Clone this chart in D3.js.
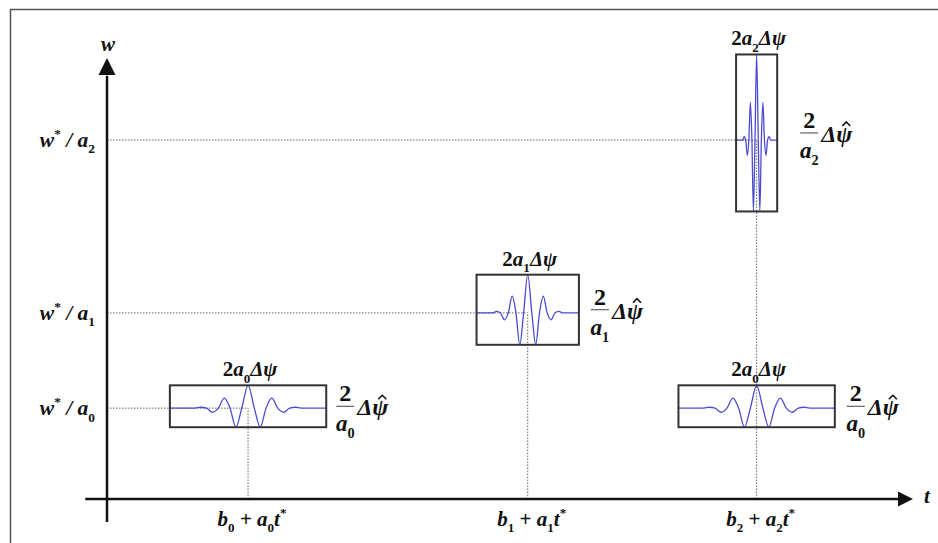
<!DOCTYPE html>
<html lang="en">
<head>
<meta charset="UTF-8">
<title>Wavelet time-frequency windows</title>
<script src="https://d3js.org/d3.v7.min.js"></script>
<style>
  body { margin: 0; background: #fff; }
  svg { display: block; }
  text { font-family: "Liberation Serif", "Times New Roman", serif; fill: #111; font-weight: bold; }
</style>
</head>
<body>
<svg id="chart" width="938" height="543"></svg>
<script>
// subscripts of the three scales a_0, a_1, a_2
var scaleIds = ["0", "1", "2"];
// centre times b_k + a_k t* and centre frequencies w*/a_k (axis units 0..100)
var tCentres = [17.5, 52.2, 80.6];
var wLevels = [20.6, 42.2, 81.4];
// window spreads per scale: 2 a_k Δψ on t, (2/a_k) Δψ̂ on w
var tSpread = [19.4, 12.7, 5.1];
var wSpread = [9.5, 15.9, 35.6];

// atoms that are drawn: which centre time, which level, which scale
var atomT = [0, 1, 2, 2];
var atomW = [0, 1, 2, 0];
var atomScale = [0, 1, 2, 0];

// mother wavelet (u = share of box width, v = share of peak)
var waveU = [-0.5, -0.34, -0.304, -0.266, -0.228, -0.19, -0.152, -0.115, -0.078, -0.04, 0,
             0.04, 0.078, 0.115, 0.152, 0.19, 0.228, 0.266, 0.304, 0.34, 0.5];
var waveV = [0, 0, 0.04, 0, -0.18, 0, 0.44, 0, -0.83, 0, 1,
             0, -0.83, 0, 0.44, 0, -0.18, 0, 0.04, 0, 0];

var svg = d3.select("#chart");

var x = d3.scaleLinear().domain([0, 100]).range([107, 913]);
var y = d3.scaleLinear().domain([0, 100]).range([499, 58]);

// share of box height above the zero line of the wavelet
var upShare = 0.545;
var fracGap = [10, 12, 23, 12];

// outer frame
svg.append("rect")
    .attr("x", 10.5).attr("y", 9.5)
    .attr("width", 1000).attr("height", 1000)
    .attr("fill", "none")
    .attr("stroke", "#555")
    .attr("stroke-width", 1.5);

// writes a small formula made of [text, kind] parts
function mathText(sel, px, py, parts, size, anchor) {
    var t = sel.append("text")
        .attr("x", px).attr("y", py)
        .attr("font-size", size)
        .attr("text-anchor", anchor || "middle");
    var shift = 0;
    parts.forEach(function(p) {
        var s = t.append("tspan").text(p[0]);
        var kind = p[1];
        var target = kind === "sub" ? size * 0.3 : kind === "sup" ? -size * 0.42 : 0;
        if (target !== shift) { s.attr("dy", target - shift); shift = target; }
        if (kind === "sub" || kind === "sup") s.attr("font-size", size * 0.62);
        if (kind === "i") s.attr("font-style", "italic");
    });
    return t;
}

// dotted guides
var guides = svg.append("g")
    .attr("stroke", "#666")
    .attr("stroke-width", 1)
    .attr("stroke-dasharray", "1.5,1.5");

wLevels.forEach(function(w, k) {
    guides.append("line")
        .attr("x1", x(0)).attr("x2", x(tCentres[k]))
        .attr("y1", y(w)).attr("y2", y(w));
    guides.append("line")
        .attr("x1", x(tCentres[k])).attr("x2", x(tCentres[k]))
        .attr("y1", y(0)).attr("y2", y(w));
});

// axes
var axes = svg.append("g").attr("stroke", "#111").attr("stroke-width", 2.5);
axes.append("line")
    .attr("x1", x(0)).attr("x2", x(0))
    .attr("y1", y(-5.2)).attr("y2", y(96));
axes.append("line")
    .attr("x1", x(-2.7)).attr("x2", x(98.2))
    .attr("y1", y(0)).attr("y2", y(0));

svg.append("path")
    .attr("d", "M" + x(0) + "," + y(100) + " L" + (x(0) + 8.5) + "," + (y(100) + 17) +
               " L" + (x(0) - 8.5) + "," + (y(100) + 17) + " Z")
    .attr("fill", "#111");
svg.append("path")
    .attr("d", "M" + x(100) + "," + y(0) + " L" + (x(100) - 15) + "," + (y(0) - 7.5) +
               " L" + (x(100) - 15) + "," + (y(0) + 7.5) + " Z")
    .attr("fill", "#111");

mathText(svg, x(0) + 1, y(100) - 7, [["w", "i"]], 21);
mathText(svg, x(100) + 14, y(0) + 4, [["t", "i"]], 21);

// tick labels
wLevels.forEach(function(w, k) {
    mathText(svg, x(0) - 12, y(w) + 7,
        [["w", "i"], ["*", "sup"], [" / ", "i"], ["a", "i"], [scaleIds[k], "sub"]], 21.5, "end");
});
tCentres.forEach(function(t, k) {
    mathText(svg, x(t) + 4, y(0) + 27,
        [["b", "i"], [scaleIds[k], "sub"], [" + ", "r"], ["a", "i"], [scaleIds[k], "sub"],
         ["t", "i"], ["*", "sup"]], 21);
});

// wavelet atoms
var wave = waveU.map(function(u, i) { return { u: u, v: waveV[i] }; });

atomT.forEach(function(ti, n) {
    var s = atomScale[n];
    var cx = x(tCentres[ti]);
    var cy = y(wLevels[atomW[n]]);
    var bw = x(tSpread[s]) - x(0);
    var bh = y(0) - y(wSpread[s]);
    var top = cy - upShare * bh;
    var g = svg.append("g");

    var line = d3.line()
        .curve(d3.curveMonotoneX)
        .x(function(d) { return cx + d.u * bw; })
        .y(function(d) { return cy - d.v * upShare * bh; });

    g.append("path")
        .datum(wave)
        .attr("d", line)
        .attr("fill", "none")
        .attr("stroke", "#4b4bd2")
        .attr("stroke-width", 1.3);

    g.append("rect")
        .attr("x", cx - bw / 2).attr("y", top)
        .attr("width", bw).attr("height", bh)
        .attr("fill", "none")
        .attr("stroke", "#333")
        .attr("stroke-width", 2);

    // width label above the box
    mathText(g, cx + 2, top - 9,
        [["2", "r"], ["a", "i"], [scaleIds[s], "sub"], ["\u0394\u03c8", "i"]], 21);

    // height label: fraction 2 / a_k followed by Δψ̂
    var fx = cx + bw / 2 + fracGap[n];
    var fy = top + bh / 2;
    g.append("line")
        .attr("x1", fx).attr("x2", fx + 18)
        .attr("y1", fy).attr("y2", fy)
        .attr("stroke", "#444").attr("stroke-width", 1);
    mathText(g, fx + 9, fy - 5, [["2", "r"]], 24);
    mathText(g, fx + 9, fy + 25, [["a", "i"], [scaleIds[s], "sub"]], 23);
    var dp = mathText(g, fx + 21, fy + 9, [["\u0394\u03c8", "i"]], 24, "start");
    // hat over ψ, drawn as a small chevron
    var node = dp.node();
    var wDelta = node.getSubStringLength(0, 1);
    var wPsi = node.getSubStringLength(1, 1);
    var hx = fx + 21 + wDelta + wPsi / 2 + 2;
    var hy = fy + 9 - 19;
    g.append("path")
        .attr("d", "M" + (hx - 4) + "," + (hy + 3) + " L" + hx + "," + (hy - 1) +
                   " L" + (hx + 4) + "," + (hy + 3))
        .attr("fill", "none")
        .attr("stroke", "#111")
        .attr("stroke-width", 1.6);
});
</script>
</body>
</html>
